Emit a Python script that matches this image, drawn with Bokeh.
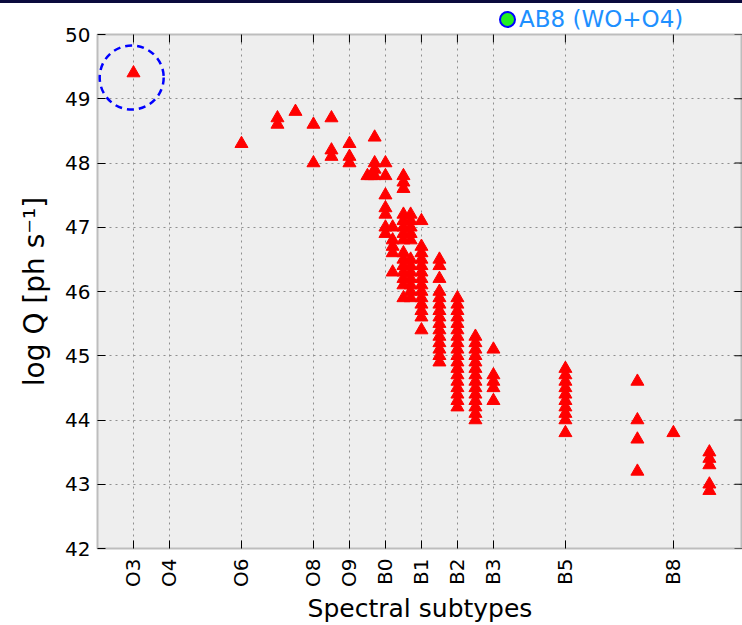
import math

from bokeh.plotting import figure
from bokeh.models import ColumnDataSource, FixedTicker, Range1d, Div
from bokeh.layouts import column
from bokeh.embed import file_html
from bokeh.resources import INLINE

# Spectral subtype axis: O3 = 3 ... O9 = 9, B0 = 10 ... B9 = 19
tick_positions = [3, 4, 6, 8, 9, 10, 11, 12, 13, 15, 18]
tick_labels = ["O3", "O4", "O6", "O8", "O9", "B0", "B1", "B2", "B3", "B5", "B8"]
y_ticks = [42, 43, 44, 45, 46, 47, 48, 49, 50]
x_start, x_end = 2, 19.92
y_start, y_end = 42, 50

# Ionising photon rates (log Q) of the stars, grouped by subtype
subtypes = [3, 6, 7, 7.5, 8, 8.5, 9, 9.5, 9.6, 9.7, 10, 10.2, 10.5, 10.7,
            11, 11.5, 12, 12.5, 13, 15, 17, 18, 19]
log_q = [
    [49.4],
    [48.3],
    [48.7, 48.6],
    [48.8],
    [48.6, 48.0],
    [48.7, 48.2, 48.1],
    [48.3, 48.1, 48.0],
    [47.8],
    [47.8],
    [48.4, 48.0, 47.9, 47.8],
    [48.0, 47.8, 47.5, 47.3, 47.2, 47.0, 46.9],
    [47.0, 46.8, 46.7, 46.6, 46.3],
    [47.8, 47.7, 47.6, 47.2, 47.1, 47.0, 46.9, 46.8, 46.6, 46.5, 46.4,
     46.3, 46.2, 46.1, 45.9],
    [47.2, 47.1, 47.0, 46.9, 46.8, 46.5, 46.4, 46.3, 46.2, 46.1, 46.0, 45.9],
    [47.1, 46.7, 46.6, 46.5, 46.4, 46.3, 46.2, 46.1, 46.0, 45.9, 45.8,
     45.7, 45.6, 45.4],
    [46.5, 46.4, 46.2, 46.0, 45.9, 45.8, 45.7, 45.6, 45.5, 45.4, 45.3,
     45.2, 45.1, 45.0, 44.9],
    [45.9, 45.8, 45.7, 45.6, 45.5, 45.4, 45.3, 45.2, 45.1, 45.0, 44.9,
     44.8, 44.7, 44.6, 44.5, 44.4, 44.3, 44.2],
    [45.3, 45.2, 45.1, 45.0, 44.9, 44.8, 44.7, 44.6, 44.5, 44.4, 44.3,
     44.2, 44.1, 44.0],
    [45.1, 44.7, 44.6, 44.5, 44.3],
    [44.8, 44.7, 44.6, 44.5, 44.4, 44.3, 44.2, 44.1, 44.0, 43.8],
    [44.6, 44.0, 43.7, 43.2],
    [43.8],
    [43.5, 43.4, 43.3, 43.0, 42.9],
]

# Dashed ring drawn around the earliest-type star
highlight_x = [2.95]
highlight_y = [49.33]

key_label = "AB8 (WO+O4)"

xs, ys = [], []
for st, vals in zip(subtypes, log_q):
    for v in vals:
        xs.append(st)
        ys.append(v)
stars = ColumnDataSource(dict(x=xs, y=ys))

p = figure(width=742, height=609,
           x_range=Range1d(x_start, x_end), y_range=Range1d(y_start, y_end),
           output_backend="svg", toolbar_location=None,
           min_border_left=97, min_border_right=0,
           min_border_top=18, min_border_bottom=69,
           background_fill_color="#eeeeee", border_fill_color=None,
           outline_line_color="#bdbdbd", outline_line_width=2)

xa = p.xaxis[0]
xa.ticker = FixedTicker(ticks=tick_positions)
xa.major_label_overrides = {t: lab for t, lab in zip(tick_positions, tick_labels)}
xa.major_label_orientation = math.pi / 2
xa.axis_label = "Spectral subtypes"

ya = p.yaxis[0]
ya.ticker = FixedTicker(ticks=y_ticks)
ya.axis_label = "log Q [ph s⁻¹]"

for ax in (xa, ya):
    ax.major_tick_in = 8
    ax.major_tick_out = 0
    ax.major_tick_line_color = "black"
    ax.minor_tick_line_color = None
    ax.axis_line_color = None
    ax.major_label_text_font = "DejaVu Sans"
    ax.major_label_text_font_size = "20px"
    ax.major_label_text_color = "black"
    ax.axis_label_text_font = "DejaVu Sans"
    ax.axis_label_text_font_style = "normal"
    ax.axis_label_text_color = "black"

xa.major_label_standoff = 10
xa.axis_label_text_font_size = "25px"
xa.axis_label_standoff = 4
ya.major_label_standoff = 7
ya.axis_label_text_font_size = "28px"
ya.axis_label_standoff = 11

for g, t in ((p.xgrid[0], tick_positions), (p.ygrid[0], y_ticks)):
    g.ticker = FixedTicker(ticks=t)
    g.grid_line_color = "#8f8f8f"
    g.grid_line_dash = "2 4"
    g.grid_line_width = 1

# inward tick marks mirrored on the top and right edges of the frame
p.scatter(x=tick_positions, y=[y_end] * len(tick_positions), marker="dash",
          angle=math.pi / 2, size=16, line_color="black", line_width=1)
p.scatter(x=[x_end] * len(y_ticks), y=y_ticks, marker="dash",
          size=16, line_color="black", line_width=1)

p.scatter("x", "y", source=stars, marker="triangle", size=13,
          fill_color="red", line_color="red", line_width=1)

p.scatter(x=highlight_x, y=highlight_y, marker="circle", size=64,
          fill_color=None, line_color="blue", line_width=2.5, line_dash="7 5")

# strip above the chart: dark rule and the AB8 marker key
header_html = (
    '<div style="position:relative;width:742px;height:16px;margin:0;padding:0;'
    'overflow:visible;">'
    '<div style="position:absolute;left:0;top:0;width:742px;height:3px;'
    'background:#0b0b3d;"></div>'
    '<div style="position:absolute;left:499px;top:11px;width:17px;height:17px;'
    'box-sizing:border-box;border-radius:50%;background:#22ee22;'
    'border:2.5px solid #0000ff;"></div>'
    '<div style="position:absolute;left:519px;top:5px;height:28px;'
    'line-height:28px;font-family:\'DejaVu Sans\';font-size:23px;'
    'color:#1e90ff;white-space:nowrap;">' + key_label + '</div>'
    '</div>'
)
header = Div(text=header_html, width=742, height=16, margin=(0, 0, 0, 0),
             styles={"overflow": "visible", "z-index": "10",
                     "position": "relative"})

layout = column(header, p, spacing=0)
open("out.html", "w").write(file_html(layout, INLINE))
